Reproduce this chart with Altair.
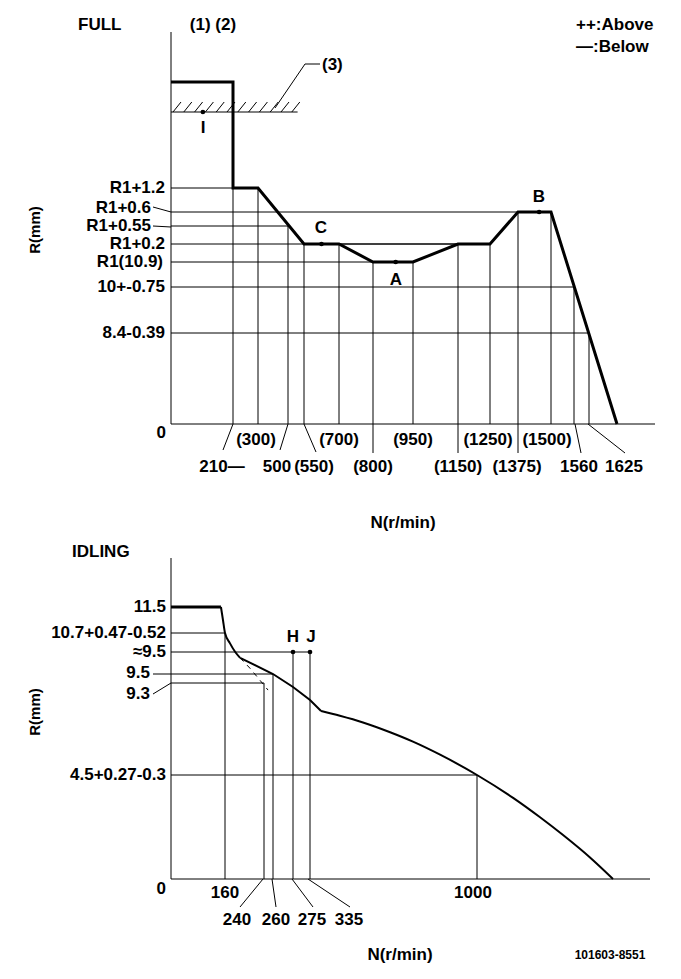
import altair as alt
import pandas as pd

# ---------------------------------------------------------------- data
# FULL (top) panel : rack position R (mm) against pump speed N (r/min)
full_n = [0, 210, 210, 300, 550, 700, 800, 950, 1150, 1250, 1375, 1500, 1720]
full_r = [13.8, 13.8, 12.1, 12.1, 11.1, 11.1, 10.9, 10.9, 11.1, 11.1, 11.5, 11.5, 0.0]
full_h_r = [12.1, 11.5, 11.45, 11.1, 10.9, 10.0, 8.4]          # horizontal guide levels
full_h_n = [300, 1375, 500, 1150, 800, 1560, 1625]             # where each guide ends
full_v_n = [210, 300, 500, 550, 700, 800, 950, 1150, 1250, 1375, 1500, 1560, 1625]
full_v_r = [12.1, 12.1, 11.45, 11.1, 11.1, 10.9, 10.9, 11.1, 11.1, 11.5, 11.5, 10.0, 8.4]
full_pt_lbl = ["I", "C", "A", "B"]
full_pt_n = [108, 625, 885, 1455]
full_pt_r = [13.4, 11.1, 10.9, 11.5]
full_stop_r = 13.4            # hatched stopper line (3)
full_stop_n = 530
full_r_labels = ["R1+1.2", "R1+0.6", "R1+0.55", "R1+0.2", "R1(10.9)", "10+-0.75", "8.4-0.39", "0"]
full_n_labels_1 = ["(300)", "(700)", "(950)", "(1250)", "(1500)"]
full_n_labels_2 = ["210\u2014", "500", "(550)", "(800)", "(1150)", "(1375)", "1560", "1625"]

# IDLING (bottom) panel
idle_flat_n = [0, 148]
idle_flat_r = [11.5, 11.5]
idle_curve1_n = [148, 154, 160, 170, 181, 191]
idle_curve1_r = [11.5, 11.1, 10.7, 10.38, 10.1, 9.94]
idle_mid_n = [191, 260, 275, 335, 379]
idle_mid_r = [9.94, 9.5, 9.09, 8.41, 7.84]
idle_curve2_n = [379, 454, 546, 654, 745, 853, 1000, 1146, 1255, 1348, 1457, 1550]
idle_curve2_r = [7.84, 7.59, 7.24, 6.73, 6.24, 5.56, 4.5, 3.51, 2.67, 1.90, 0.93, 0.0]
idle_dash_n = [191, 211, 228, 249]
idle_dash_r = [9.94, 9.66, 9.41, 8.93]
HJ_LEVEL = 10.1   # level drawn for the "≈9.5" (H, J) set points
idle_h_r = [10.7, HJ_LEVEL, 9.5, 9.3, 4.5]
idle_h_n = [160, 335, 260, 240, 1000]
idle_v_n = [160, 240, 260, 275, 335, 1000]
idle_v_r = [10.7, 9.3, 9.5, HJ_LEVEL, HJ_LEVEL, 4.5]
idle_pt_lbl = ["H", "J"]
idle_pt_n = [275, 335]
idle_r_labels = ["11.5", "10.7+0.47-0.52", "\u22489.5", "9.5", "9.3", "4.5+0.27-0.3", "0"]
idle_n_labels_1 = ["160", "1000"]
idle_n_labels_2 = ["240", "260", "275", "335"]

# ---------------------------------------------------------------- layout
OFF = 8
W, H = 665, 963
FONT = "Liberation Sans"
FS = 17


def P(v):
    return v - OFF


def sc(dom, px):
    return alt.Scale(domain=dom, range=[P(v) for v in px], zero=False, nice=False)


TX = sc([0, 210, 300, 500, 550, 700, 800, 950, 1150, 1250, 1375, 1500, 1560, 1625, 1720, 1800],
        [171, 233, 258, 288, 304, 339, 373, 413, 458, 490, 518, 551, 574, 589, 617, 655])
TY = sc([0, 8.4, 10.0, 10.9, 11.1, 11.45, 11.5, 12.1, 13.4, 13.8, 15.5],
        [424, 333, 287, 262, 244, 226, 212, 188, 112, 82, 32])
BX = sc([0, 160, 240, 260, 275, 335, 1000, 1550, 1700],
        [171, 225, 264, 273, 293, 310, 477, 613, 650])
BY = sc([0, 4.5, 9.3, 9.5, HJ_LEVEL, 10.7, 11.5, 13.0],
        [879, 775, 683, 674, 652, 633, 607, 558])

layers = []


def line(n, r, xs, ys, width, dash=None, interp=None):
    df = pd.DataFrame({"n": n, "r": r, "i": range(len(n))})
    kw = dict(color="black", strokeWidth=width, strokeJoin="miter")
    if dash:
        kw["strokeDash"] = dash
    if interp:
        kw["interpolate"] = interp
    return alt.Chart(df).mark_line(**kw).encode(
        x=alt.X("n:Q", scale=xs, axis=None),
        y=alt.Y("r:Q", scale=ys, axis=None),
        order="i:Q")


def hrules(r, n0, n1, xs, ys):
    df = pd.DataFrame({"r": r, "n0": n0, "n1": n1})
    return alt.Chart(df).mark_rule(color="black", strokeWidth=1).encode(
        x=alt.X("n0:Q", scale=xs, axis=None), x2="n1:Q",
        y=alt.Y("r:Q", scale=ys, axis=None))


def vrules(n, r0, r1, xs, ys):
    df = pd.DataFrame({"n": n, "r0": r0, "r1": r1})
    return alt.Chart(df).mark_rule(color="black", strokeWidth=1).encode(
        x=alt.X("n:Q", scale=xs, axis=None),
        y=alt.Y("r0:Q", scale=ys, axis=None), y2="r1:Q")


def dots(n, r, xs, ys):
    df = pd.DataFrame({"n": n, "r": r})
    return alt.Chart(df).mark_circle(color="black", size=22, opacity=1).encode(
        x=alt.X("n:Q", scale=xs, axis=None),
        y=alt.Y("r:Q", scale=ys, axis=None))


def segs(rows, width=1):
    df = pd.DataFrame(rows, columns=["x1", "y1", "x2", "y2"])
    for c in df.columns:
        df[c] = df[c] - OFF
    return alt.Chart(df).mark_rule(color="black", strokeWidth=width).encode(
        x=alt.X("x1:Q", scale=None, axis=None), x2="x2:Q",
        y=alt.Y("y1:Q", scale=None, axis=None), y2="y2:Q")


def texts(labels, xs_px, ys_px, align="center", size=FS, angle=0, weight="bold"):
    df = pd.DataFrame({"t": labels, "x": [P(v) for v in xs_px], "y": [P(v) for v in ys_px]})
    return alt.Chart(df).mark_text(font=FONT, fontSize=size, fontWeight=weight, align=align,
                                   baseline="middle", angle=angle, color="black").encode(
        x=alt.X("x:Q", scale=None, axis=None),
        y=alt.Y("y:Q", scale=None, axis=None),
        text="t:N")


# ----------------------------------------------------------- FULL panel
layers.append(vrules([0], [0], [15.5], TX, TY))                  # y axis
layers.append(hrules([0], [0], [1800], TX, TY))                  # x axis
layers.append(hrules(full_h_r, [0] * len(full_h_r), full_h_n, TX, TY))
layers.append(hrules([11.1], [550], [1150], TX, TY))              # R1+0.2 guide through
layers.append(vrules(full_v_n, [0] * len(full_v_n), full_v_r, TX, TY))
layers.append(alt.Chart(pd.DataFrame({"n": [800, 1150, 1375]})).mark_rule(
    color="black", strokeWidth=1).encode(
    x=alt.X("n:Q", scale=TX, axis=None), y=alt.value(P(424)), y2=alt.value(P(453))))
layers.append(hrules([full_stop_r], [0], [full_stop_n], TX, TY))
hatch = [(173 + 10.8 * k, 112, 181 + 10.8 * k, 102) for k in range(12)]
layers.append(segs(hatch))
layers.append(segs([(275, 108, 305, 64), (305, 64, 320, 64)]))
layers.append(line(full_n, full_r, TX, TY, 3))
layers.append(dots(full_pt_n, full_pt_r, TX, TY))
layers.append(texts(full_pt_lbl, [203, 321, 396, 539], [128, 228, 280, 197]))

layers.append(texts(full_r_labels, [165, 151, 151, 165, 163, 165, 165, 166],
                    [188, 208, 226, 244, 262, 287, 333, 433], align="right"))
layers.append(segs([(153, 207, 171, 212), (153, 226, 171, 227)]))
layers.append(texts(full_n_labels_1, [256, 339, 413, 488, 547], [440] * 5))
layers.append(texts(full_n_labels_2, [222, 277, 314, 373, 458, 517, 579, 624], [467] * 8))
layers.append(segs([(233, 424, 223, 450), (288, 424, 280, 450), (304, 424, 316, 452),
                    (575, 424, 581, 453), (588, 424, 625, 453)]))
layers.append(texts(["FULL"], [78], [25], align="left"))
layers.append(texts(["(1) (2)"], [213], [25]))
layers.append(texts(["(3)"], [322], [65], align="left"))
layers.append(texts(["++:Above", "\u2014:Below"], [576, 576], [25, 47], align="left"))
layers.append(texts(["R(mm)"], [35], [230], angle=270, size=15))
layers.append(texts(["N(r/min)"], [403], [523]))

# --------------------------------------------------------- IDLING panel
layers.append(vrules([0], [0], [13.0], BX, BY))
layers.append(hrules([0], [0], [1700], BX, BY))
layers.append(hrules(idle_h_r, [0] * len(idle_h_r), idle_h_n, BX, BY))
layers.append(vrules(idle_v_n, [0] * len(idle_v_n), idle_v_r, BX, BY))
layers.append(line(idle_flat_n, idle_flat_r, BX, BY, 3))
layers.append(line(idle_curve1_n, idle_curve1_r, BX, BY, 2, interp="monotone"))
layers.append(line(idle_mid_n, idle_mid_r, BX, BY, 2))
layers.append(line(idle_curve2_n, idle_curve2_r, BX, BY, 2, interp="monotone"))
layers.append(line(idle_dash_n, idle_dash_r, BX, BY, 1, dash=[5, 5]))
layers.append(dots(idle_pt_n, [HJ_LEVEL, HJ_LEVEL], BX, BY))
layers.append(texts(idle_pt_lbl, [293, 311], [637, 637]))
layers.append(texts(idle_r_labels, [166, 166, 166, 150, 150, 166, 166],
                    [607, 633, 652, 673, 694, 775, 889], align="right"))
layers.append(segs([(153, 674, 171, 674), (153, 694, 171, 683)]))
layers.append(texts(idle_n_labels_1, [225, 473], [893, 893]))
layers.append(texts(idle_n_labels_2, [237, 276, 312, 349], [920] * 4))
layers.append(segs([(263, 879, 240, 907), (272, 879, 276, 907), (292, 879, 313, 907),
                    (308, 879, 350, 907)]))
layers.append(texts(["IDLING"], [72], [552], align="left"))
layers.append(texts(["R(mm)"], [35], [712], angle=270, size=15))
layers.append(texts(["N(r/min)"], [400], [955]))
layers.append(texts(["101603-8551"], [610], [955], size=12))

chart = alt.layer(*layers).resolve_scale(x="independent", y="independent").properties(
    width=W, height=H, autosize=alt.AutoSizeParams(type="none"), padding=0,
    background="white").configure_view(stroke=None)

chart.save("out.html", embed_options={"renderer": "svg", "actions": False})
